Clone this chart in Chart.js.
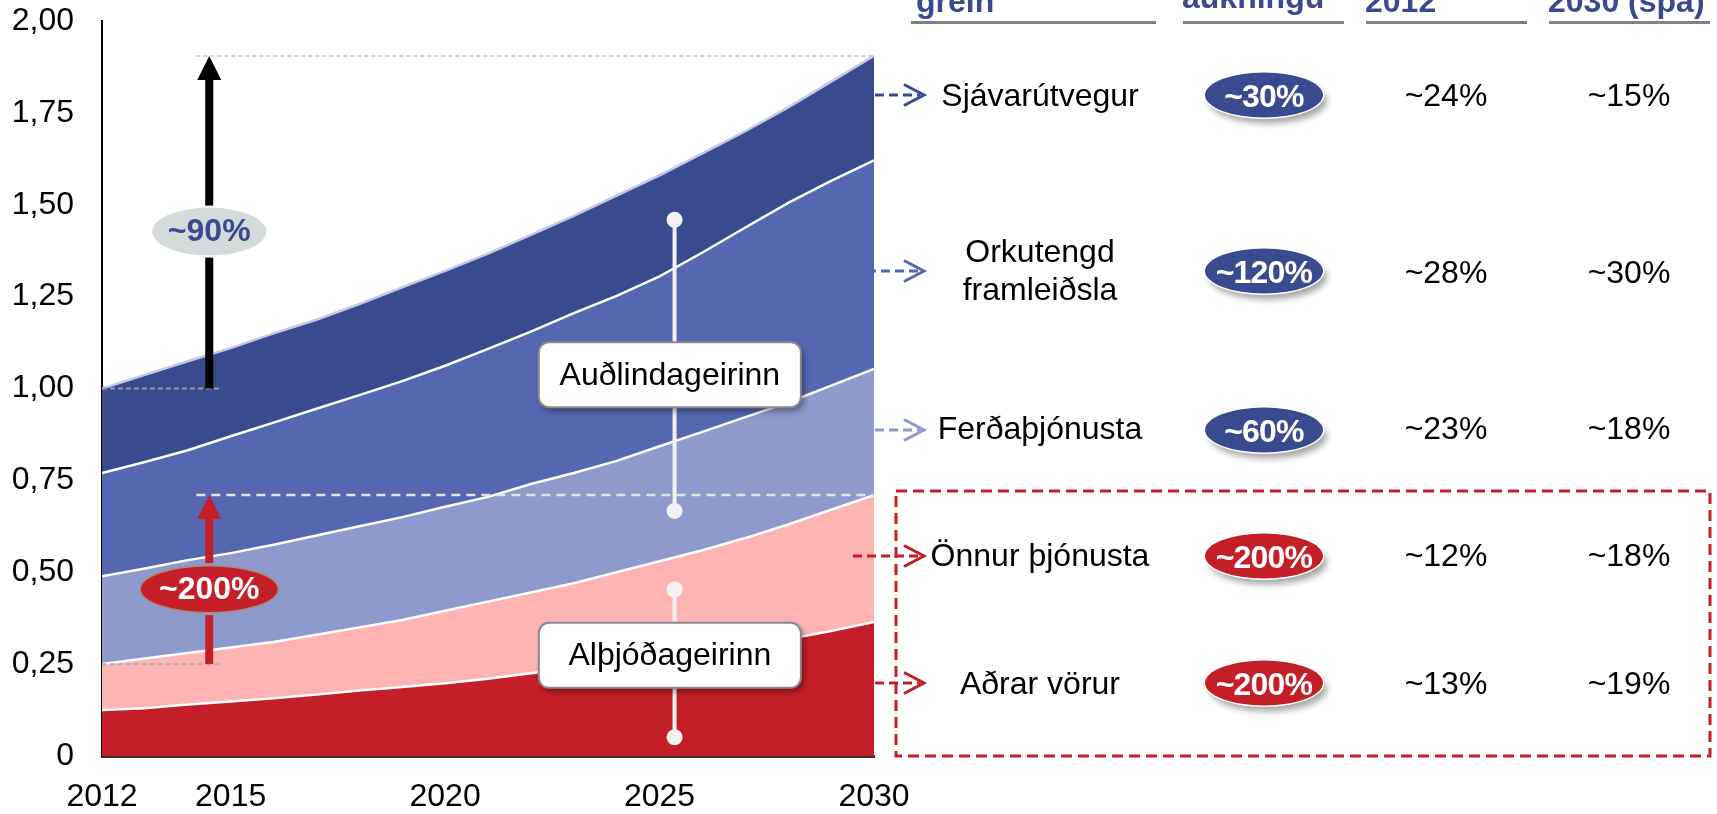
<!DOCTYPE html>
<html>
<head>
<meta charset="utf-8">
<script src="https://cdn.jsdelivr.net/npm/chart.js@4.4.1/dist/chart.umd.min.js"></script>
<style>
html,body{margin:0;padding:0;background:#fff;overflow:hidden;}
#wrap{position:relative;width:1717px;height:814px;font-family:'Liberation Sans',Arial,sans-serif;overflow:hidden;}
#c{position:absolute;left:0;top:0;}
.t{position:absolute;font-size:32px;line-height:32px;white-space:nowrap;color:#000;transform:translateX(-50%);}
.h{position:absolute;font-size:32px;line-height:32px;font-weight:bold;color:#3A4A8E;white-space:nowrap;}
.ul{position:absolute;height:3px;background:#808080;top:21px;}
.badge{position:absolute;width:118px;height:45px;border-radius:50%;color:#fff;font-weight:bold;font-size:32px;line-height:32px;display:flex;align-items:center;justify-content:center;box-shadow:0 0 0 1.5px #fff,4px 6px 6px rgba(0,0,0,0.35);transform:translate(-50%,-50%);letter-spacing:-0.8px;}
</style>
</head>
<body>
<div id="wrap">
<canvas id="c" width="1717" height="814"></canvas>
</div>
<script>
// ---- data ----
const years = [2012,2013,2014,2015,2016,2017,2018,2019,2020,2021,2022,2023,2024,2025,2026,2027,2028,2029,2030];
const adrarVorur     = [0.125,0.130,0.140,0.148,0.157,0.167,0.178,0.188,0.198,0.210,0.225,0.240,0.255,0.270,0.285,0.300,0.318,0.340,0.365];
const onnurThjonusta = [0.125,0.135,0.140,0.147,0.153,0.163,0.172,0.182,0.197,0.210,0.220,0.230,0.245,0.260,0.275,0.293,0.312,0.330,0.345];
const ferdathjonusta = [0.239,0.245,0.253,0.257,0.265,0.270,0.275,0.280,0.283,0.285,0.295,0.300,0.303,0.313,0.322,0.329,0.332,0.338,0.343];
const orkutengd      = [0.281,0.290,0.299,0.318,0.332,0.345,0.357,0.370,0.384,0.403,0.415,0.435,0.449,0.462,0.488,0.516,0.543,0.557,0.568];
const sjavarutvegur  = [0.230,0.237,0.242,0.240,0.243,0.242,0.248,0.255,0.258,0.259,0.263,0.265,0.273,0.275,0.270,0.262,0.260,0.270,0.284];
const xTickValues = [2012,2015,2020,2025,2030];

const headers   = ['grein','aukningu','2012','2030 (spá)'];
const sectors   = [['Sjávarútvegur'],['Orkutengd','framleiðsla'],['Ferðaþjónusta'],['Önnur þjónusta'],['Aðrar vörur']];
const growth    = ['~30%','~120%','~60%','~200%','~200%'];
const share2012 = ['~24%','~28%','~23%','~12%','~13%'];
const share2030 = ['~15%','~30%','~18%','~18%','~19%'];
const totalGrowthLabel = '~90%';
const intlGrowthLabel = '~200%';
const boxLabels = ['Auðlindageirinn','Alþjóðageirinn'];

// ---- styles ----
const FONT = "'Liberation Sans', Arial, sans-serif";
const NAVY = '#3A4A8E', MID = '#5567B1', LIGHT = '#8E9ACC', PINK = '#FFB4B4', RED = '#C41F28';
const rowColors = [NAVY, MID, LIGHT, RED, RED];
const rowBadge = [NAVY, NAVY, NAVY, RED, RED];
const rowY = [95, 271, 430, 556, 683];
const rowBase = [[106],[262,300],[439],[566],[694]];
const valBase = [106,283,439,566,694];
const arrowStart = [875, 853, 875, 853, 875];
const BL = 27.1; // baseline offset for 32px line box

// ---- HTML table ----
const wrap = document.getElementById('wrap');
function el(cls, txt, css){ const d=document.createElement('div'); d.className=cls; d.textContent=txt; Object.assign(d.style, css); wrap.appendChild(d); return d; }
const hdrX = [916,1182,1365,1548], hdrBase=[12,8.5,12.5,12.5];
const ulX = [[911,1156],[1183,1344],[1366,1527],[1549,1710]];
headers.forEach((h,i)=>{ el('h',h,{left:hdrX[i]+'px',top:(hdrBase[i]-BL)+'px'}); });
ulX.forEach(u=>{ el('ul','',{left:u[0]+'px',width:(u[1]-u[0])+'px'}); });
sectors.forEach((lines,i)=>{
  lines.forEach((ln,j)=>{ el('t',ln,{left:'1040px',top:(rowBase[i][j]-BL)+'px'}); });
  el('badge',growth[i],{left:'1264px',top:rowY[i]+'px',background:rowBadge[i]});
  el('t',share2012[i],{left:'1446px',top:(valBase[i]-BL)+'px'});
  el('t',share2030[i],{left:'1629px',top:(valBase[i]-BL)+'px'});
});

// ---- decorations plugin ----
function dashLine(ctx,x1,y1,x2,y2,color,w,dash){ctx.save();ctx.strokeStyle=color;ctx.lineWidth=w;ctx.setLineDash(dash);ctx.beginPath();ctx.moveTo(x1,y1);ctx.lineTo(x2,y2);ctx.stroke();ctx.restore();}
function upArrow(ctx,x,yBase,yTip,color,gapTop,gapBot){
  ctx.save();ctx.fillStyle=color;
  const sw=8, hw=12, hh=24;
  const headBase=yTip+hh;
  ctx.fillRect(x-sw/2, headBase-1, sw, gapTop-headBase+1);
  ctx.fillRect(x-sw/2, gapBot, sw, yBase-gapBot);
  ctx.beginPath();ctx.moveTo(x,yTip);ctx.lineTo(x+hw,headBase);ctx.lineTo(x-hw,headBase);ctx.closePath();ctx.fill();
  ctx.restore();
}
function ellipseLabel(ctx,cx,cy,rx,ry,fill,stroke,txt,txtColor){
  ctx.save();ctx.beginPath();ctx.ellipse(cx,cy,rx,ry,0,0,Math.PI*2);ctx.fillStyle=fill;ctx.fill();
  if(stroke){ctx.strokeStyle=stroke;ctx.lineWidth=1.5;ctx.stroke();}
  ctx.fillStyle=txtColor;ctx.font='bold 32px '+FONT;ctx.textAlign='center';ctx.textBaseline='middle';ctx.fillText(txt,cx,cy+1);
  ctx.restore();
}
function labelBox(ctx,cx,cy,w,h,txt){
  ctx.save();
  ctx.shadowColor='rgba(0,0,0,0.4)';ctx.shadowOffsetX=3;ctx.shadowOffsetY=4;ctx.shadowBlur=6;
  ctx.beginPath();ctx.roundRect(cx-w/2,cy-h/2,w,h,10);ctx.fillStyle='#fff';ctx.fill();
  ctx.shadowColor='transparent';ctx.strokeStyle='#8a8a8a';ctx.lineWidth=2;ctx.stroke();
  ctx.fillStyle='#000';ctx.font='32px '+FONT;ctx.textAlign='center';ctx.textBaseline='middle';ctx.fillText(txt,cx,cy+1);
  ctx.restore();
}
function stem(ctx,x,yTop,yBot){
  ctx.save();ctx.strokeStyle='#f2f2f2';ctx.fillStyle='#f2f2f2';ctx.lineWidth=4;
  ctx.beginPath();ctx.moveTo(x,yTop);ctx.lineTo(x,yBot);ctx.stroke();
  [yTop,yBot].forEach(yy=>{ctx.beginPath();ctx.arc(x,yy,8,0,Math.PI*2);ctx.fill();});
  ctx.restore();
}
const deco = {
  id:'deco',
  afterDatasetsDraw(chart){
    const ctx=chart.ctx, xs=chart.scales.x, ys=chart.scales.y, ca=chart.chartArea;
    const n=years.length-1;
    const tot=i=>adrarVorur[i]+onnurThjonusta[i]+ferdathjonusta[i]+orkutengd[i]+sjavarutvegur[i];
    const intl=i=>adrarVorur[i]+onnurThjonusta[i];
    const X=v=>xs.getPixelForValue(v), Y=v=>ys.getPixelForValue(v);
    const ax=X(2014.5);
    dashLine(ctx,X(2014.2),Y(tot(n)),ca.right,Y(tot(n)),'#c4c4c4',1.5,[4,3]);
    dashLine(ctx,ca.left,Y(tot(0)),X(2014.8),Y(tot(0)),'#9a9a9a',2,[5,3]);
    dashLine(ctx,ca.left,Y(intl(0)),X(2014.8),Y(intl(0)),'#b0b0b0',2,[5,3]);
    dashLine(ctx,X(2014.2),Y(intl(n)),ca.right,Y(intl(n)),'#e2e2e2',2.5,[9,6]);
    const sx=X(2025.35);
    stem(ctx,sx,Y(1.459),Y(0.667));
    stem(ctx,sx,Y(0.453),Y(0.051));
    labelBox(ctx,X(2025.24),Y(1.0375),262,65,boxLabels[0]);
    labelBox(ctx,X(2025.24),Y(0.274),262,65,boxLabels[1]);
    const e1=Y(1.427), e2=Y(0.454);
    upArrow(ctx,ax,Y(tot(0)),Y(tot(n)),'#000',e1-26,e1+26);
    ellipseLabel(ctx,ax,e1,57,24,'#D5DADB',null,totalGrowthLabel,NAVY);
    upArrow(ctx,ax,Y(intl(0)),Y(intl(n)),RED,e2-26,e2+26);
    ellipseLabel(ctx,ax,e2,69,23.5,RED,'#a88a7a',intlGrowthLabel,'#fff');
    rowY.forEach((yy,i)=>{
      ctx.save();ctx.strokeStyle=rowColors[i];ctx.lineWidth=3;
      ctx.setLineDash([9,5]);ctx.beginPath();ctx.moveTo(arrowStart[i],yy);ctx.lineTo(920,yy);ctx.stroke();
      ctx.setLineDash([]);ctx.beginPath();ctx.moveTo(904,yy-10.5);ctx.lineTo(924,yy);ctx.lineTo(904,yy+10.5);ctx.stroke();
      ctx.restore();
    });
    ctx.save();ctx.strokeStyle=RED;ctx.lineWidth=3;ctx.setLineDash([11,6]);
    ctx.strokeRect(896,491,1710-896,756-491);ctx.restore();
  }
};

// ---- chart ----
Chart.defaults.font.family = FONT;
Chart.defaults.font.size = 32;
Chart.defaults.color = '#000';
const mk=(arr)=>years.map((yr,i)=>({x:yr,y:arr[i]}));
const series=[
  {label:'Aðrar vörur',data:adrarVorur,bg:RED,line:'#ffffff'},
  {label:'Önnur þjónusta',data:onnurThjonusta,bg:PINK,line:'#ffffff'},
  {label:'Ferðaþjónusta',data:ferdathjonusta,bg:LIGHT,line:'#ffffff'},
  {label:'Orkutengd framleiðsla',data:orkutengd,bg:MID,line:'#ffffff'},
  {label:'Sjávarútvegur',data:sjavarutvegur,bg:NAVY,line:'#c3c8e6'}
];
new Chart(document.getElementById('c'),{
  type:'line',
  data:{datasets:series.map((s,i)=>({label:s.label,data:mk(s.data),backgroundColor:s.bg,borderColor:s.line,borderWidth:2.5,fill:i===0?'origin':'-1',pointRadius:0,tension:0}))},
  options:{
    responsive:false,animation:false,devicePixelRatio:1,
    layout:{padding:{left:0,right:843,top:21,bottom:0}},
    plugins:{legend:{display:false},tooltip:{enabled:false}},
    scales:{
      x:{type:'linear',min:2012,max:2030,
        grid:{display:false,drawTicks:false},
        border:{display:true,color:'#333',width:3},
        afterBuildTicks:(ax)=>{ax.ticks=xTickValues.map(v=>({value:v}));},
        ticks:{padding:22,autoSkip:false,maxRotation:0,callback:(v)=>String(v)},
        afterFit:(s)=>{s.height=58;s.paddingLeft=0;s.paddingRight=0;}
      },
      y:{stacked:true,min:0,max:2,
        grid:{display:false,drawTicks:false},
        border:{display:true,color:'#000',width:2},
        ticks:{stepSize:0.25,padding:28,callback:(v)=>v===0?'0':v.toFixed(2).replace('.',',')},
        afterFit:(s)=>{s.width=102;s.paddingTop=0;s.paddingBottom=0;}
      }
    }
  },
  plugins:[deco]
});
</script>
</body>
</html>
